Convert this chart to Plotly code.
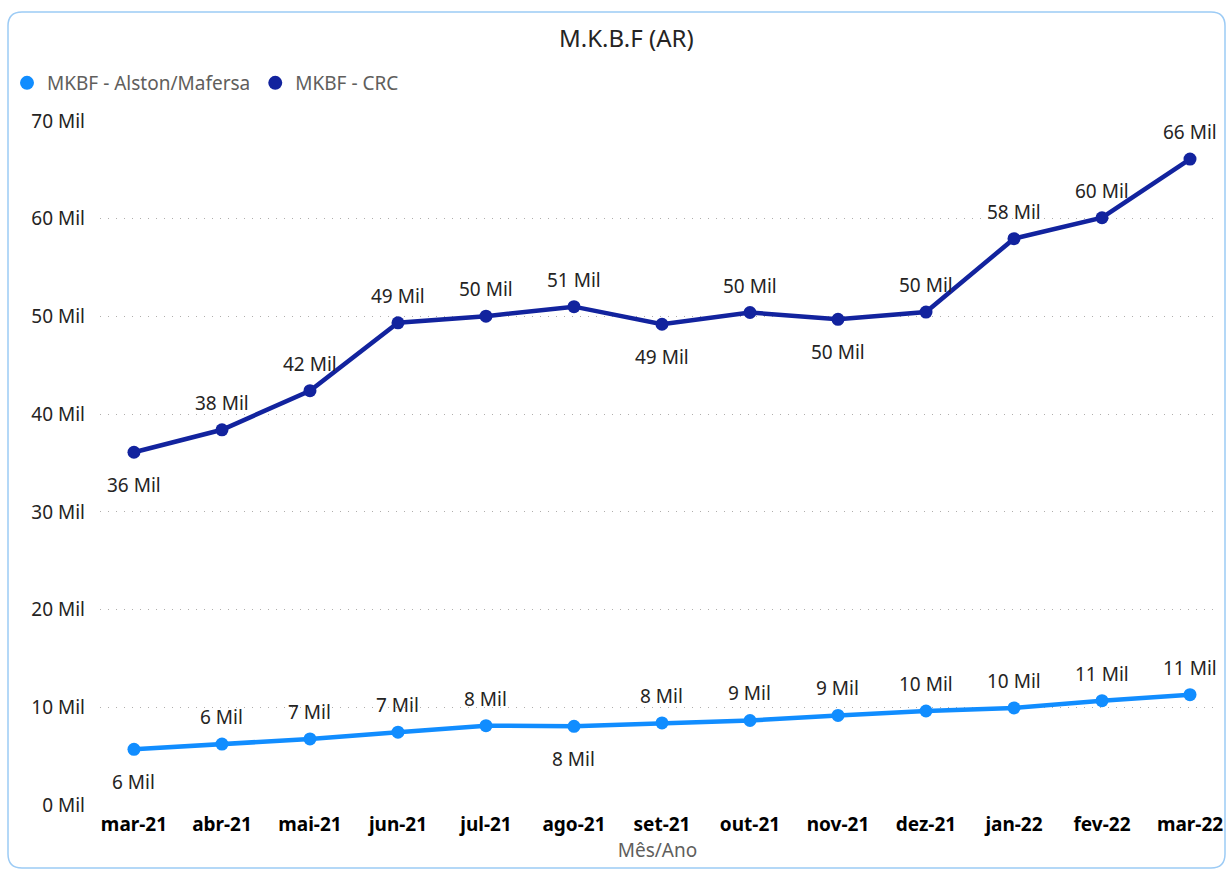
import plotly.graph_objects as go

months = ["mar-21", "abr-21", "mai-21", "jun-21", "jul-21", "ago-21", "set-21",
          "out-21", "nov-21", "dez-21", "jan-22", "fev-22", "mar-22"]
alston = [5.70, 6.24, 6.76, 7.45, 8.12, 8.05, 8.40, 8.65, 9.17, 9.62, 9.93, 10.68, 11.29]
crc = [36.1, 38.4, 42.4, 49.35, 50.03, 51.0, 49.2, 50.4, 49.7, 50.45, 57.96, 60.1, 66.1]
alston_pos = ["below", "above", "above", "above", "above", "below", "above",
              "above", "above", "above", "above", "above", "above"]
crc_pos = ["below", "above", "above", "above", "above", "above", "below",
           "above", "below", "above", "above", "above", "above"]
y_ticks = [0, 10, 20, 30, 40, 50, 60, 70]
y_labels = [f"{v} Mil" for v in y_ticks]

C_ALSTON = "#118DFF"
C_CRC = "#12239E"
FONT = "Noto Sans"
TXT = "#252423"

fig = go.Figure()
for name, vals, col in (("MKBF - Alston/Mafersa", alston, C_ALSTON), ("MKBF - CRC", crc, C_CRC)):
    fig.add_trace(go.Scatter(x=months, y=vals, mode="lines+markers", name=name, legendgroup=name,
                             showlegend=False, line=dict(color=col, width=4.5),
                             marker=dict(size=13, color=col)))
    fig.add_trace(go.Scatter(x=[None], y=[None], mode="markers", name=name, legendgroup=name,
                             marker=dict(size=14, color=col)))

annotations = []
for vals, pos in ((alston, alston_pos), (crc, crc_pos)):
    for m, v, p in zip(months, vals, pos):
        annotations.append(dict(x=m, y=v, xref="x", yref="y", text=f"{round(v)} Mil",
                                showarrow=False, yshift=27 if p == "above" else -33,
                                font=dict(family=FONT, size=19, color=TXT)))

# layout geometry
W, H = 1229, 872
L, R, T, B = 100, 14, 121, 67
pw, ph = W - L - R, H - T - B

def px(x):
    return (x - L) / pw

def py(y):
    return (H - B - y) / ph

annotations.append(dict(x=px(626), y=py(37), xref="paper", yref="paper", yanchor="middle",
                        xanchor="center", text="M.K.B.F (AR)", showarrow=False,
                        font=dict(family=FONT, size=24, color=TXT)))

x0, x1, y0, y1, r = 8, 1225, 12, 868, 14
path = (f"M {px(x0 + r)},{py(y0)} L {px(x1 - r)},{py(y0)} Q {px(x1)},{py(y0)} {px(x1)},{py(y0 + r)} "
        f"L {px(x1)},{py(y1 - r)} Q {px(x1)},{py(y1)} {px(x1 - r)},{py(y1)} "
        f"L {px(x0 + r)},{py(y1)} Q {px(x0)},{py(y1)} {px(x0)},{py(y1 - r)} "
        f"L {px(x0)},{py(y0 + r)} Q {px(x0)},{py(y0)} {px(x0 + r)},{py(y0)} Z")

fig.update_layout(
    width=W, height=H,
    margin=dict(l=L, r=R, t=T, b=B, autoexpand=False),
    paper_bgcolor="white", plot_bgcolor="white",
    font=dict(family=FONT, size=19, color=TXT),
    showlegend=True,
    legend=dict(orientation="h", x=px(7), y=py(83), xanchor="left", yanchor="middle",
                font=dict(family=FONT, size=19, color="#605E5C"), itemwidth=30,
                tracegroupgap=0, bgcolor="rgba(0,0,0,0)"),
    annotations=annotations,
    shapes=[dict(type="path", path=path, xref="paper", yref="paper",
                 line=dict(color="#9CCBF5", width=1.5), layer="below")],
    xaxis=dict(type="category", range=[-0.386, 12.284], showgrid=False, zeroline=False,
               showline=False, ticks="", ticklabelstandoff=6,
               tickfont=dict(family=FONT, size=19, color="#000000", weight="bold"),
               title=dict(text="Mês/Ano", font=dict(family=FONT, size=19, color="#605E5C"), standoff=6)),
    yaxis=dict(range=[0, 70], tickvals=y_ticks, ticktext=y_labels, showgrid=True,
               gridcolor="#B0AEAC", griddash="1px,7px", gridwidth=1.3, zeroline=False, showline=False,
               tickfont=dict(family=FONT, size=19, color=TXT), ticklabelstandoff=14),
)

fig.write_html("out.html", config={"displayModeBar": False},
               post_script="document.body.style.margin='0';")
